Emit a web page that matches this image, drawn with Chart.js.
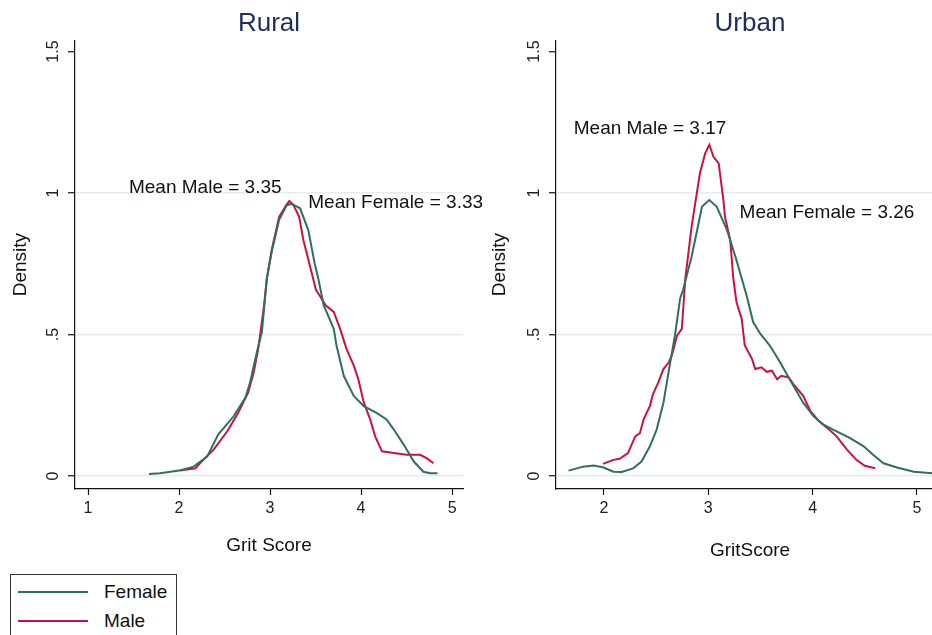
<!DOCTYPE html>
<html>
<head>
<meta charset="utf-8">
<script src="https://cdn.jsdelivr.net/npm/chart.js@4.4.1/dist/chart.umd.min.js"></script>
<style>
  html, body { margin: 0; padding: 0; background: #fff; overflow: hidden; }
  body { width: 932px; height: 635px; position: relative; font-family: "Liberation Sans", Arial, sans-serif; }
  .panel { position: absolute; top: 0; }
  #wrapRural { left: 0; width: 495px; height: 560px; }
  #wrapUrban { left: 470px; width: 490px; height: 565px; }
  .legend { position: absolute; left: 10px; top: 574px; width: 167px; height: 70px; border: 1px solid #333; box-sizing: border-box; }
  .legend .item { position: absolute; left: 7px; height: 22px; width: 150px; }
  .legend .swatch { position: absolute; left: 0; top: 10px; width: 70px; height: 2px; }
  .legend .lbl { position: absolute; left: 86px; top: 0; font-size: 19px; line-height: 22px; color: #111; }
</style>
</head>
<body>
<div class="panel" id="wrapRural"><canvas id="rural"></canvas></div>
<div class="panel" id="wrapUrban"><canvas id="urban"></canvas></div>
<div class="legend">
  <div class="item" style="top:6px"><div class="swatch" style="background:#2f6f61"></div><div class="lbl">Female</div></div>
  <div class="item" style="top:35px"><div class="swatch" style="background:#c8143c"></div><div class="lbl">Male</div></div>
</div>
<script>
// Kernel density estimates of grit score, by sex
const ruralFemaleX = [1.67, 1.79, 2.0, 2.16, 2.31, 2.43, 2.6, 2.73, 2.78, 2.855, 2.91, 2.965, 3.02, 3.1, 3.18, 3.22, 3.26, 3.33, 3.42, 3.49, 3.53, 3.59, 3.70, 3.73, 3.81, 3.92, 4.03, 4.17, 4.28, 4.36, 4.47, 4.58, 4.685, 4.76, 4.84];
const ruralFemaleY = [0.007, 0.010, 0.019, 0.033, 0.069, 0.146, 0.211, 0.277, 0.33, 0.437, 0.508, 0.698, 0.795, 0.905, 0.955, 0.961, 0.958, 0.946, 0.869, 0.752, 0.698, 0.603, 0.52, 0.461, 0.354, 0.283, 0.247, 0.223, 0.2, 0.164, 0.11, 0.051, 0.015, 0.0095, 0.0095];
const ruralMaleX = [2.01, 2.18, 2.23, 2.38, 2.53, 2.65, 2.76, 2.82, 2.87, 2.93, 2.965, 3.018, 3.10, 3.18, 3.212, 3.256, 3.32, 3.366, 3.44, 3.505, 3.55, 3.61, 3.70, 3.77, 3.84, 3.92, 3.97, 4.03, 4.10, 4.155, 4.23, 4.36, 4.50, 4.65, 4.72, 4.795];
const ruralMaleY = [0.019, 0.027, 0.045, 0.093, 0.158, 0.223, 0.295, 0.366, 0.449, 0.591, 0.698, 0.799, 0.916, 0.958, 0.972, 0.958, 0.916, 0.834, 0.74, 0.657, 0.635, 0.603, 0.58, 0.52, 0.449, 0.39, 0.342, 0.259, 0.2, 0.14, 0.087, 0.081, 0.075, 0.075, 0.063, 0.045];

const urbanFemaleX = [1.66, 1.80, 1.90, 1.99, 2.09, 2.17, 2.28, 2.36, 2.44, 2.505, 2.57, 2.63, 2.68, 2.73, 2.76, 2.84, 2.94, 3.01, 3.08, 3.18, 3.27, 3.37, 3.43, 3.50, 3.59, 3.69, 3.78, 3.91, 4.01, 4.10, 4.23, 4.36, 4.49, 4.58, 4.68, 4.81, 4.97, 5.15];
const urbanFemaleY = [0.019, 0.033, 0.037, 0.031, 0.015, 0.014, 0.027, 0.051, 0.105, 0.164, 0.259, 0.39, 0.496, 0.627, 0.66, 0.775, 0.952, 0.975, 0.952, 0.869, 0.763, 0.634, 0.544, 0.502, 0.461, 0.401, 0.342, 0.259, 0.211, 0.182, 0.158, 0.134, 0.105, 0.075, 0.045, 0.03, 0.015, 0.0095];
const urbanMaleX = [1.99, 2.09, 2.15, 2.23, 2.30, 2.345, 2.38, 2.44, 2.47, 2.52, 2.57, 2.62, 2.65, 2.70, 2.746, 2.78, 2.84, 2.92, 2.97, 3.01, 3.05, 3.10, 3.145, 3.16, 3.21, 3.24, 3.27, 3.32, 3.35, 3.42, 3.45, 3.51, 3.56, 3.61, 3.66, 3.70, 3.77, 3.83, 3.91, 3.98, 4.06, 4.14, 4.23, 4.33, 4.42, 4.50, 4.60];
const urbanMaleY = [0.043, 0.057, 0.061, 0.081, 0.14, 0.152, 0.2, 0.247, 0.289, 0.33, 0.378, 0.401, 0.425, 0.496, 0.52, 0.698, 0.881, 1.07, 1.14, 1.17, 1.128, 1.105, 0.975, 0.916, 0.834, 0.698, 0.615, 0.556, 0.461, 0.413, 0.378, 0.384, 0.368, 0.372, 0.342, 0.354, 0.348, 0.318, 0.283, 0.229, 0.194, 0.17, 0.14, 0.093, 0.057, 0.036, 0.027];

// Mean annotations: [text, x, y] in data units
const ruralNotes = [["Mean Male = 3.35", 1.45, 1.018], ["Mean Female = 3.33", 3.42, 0.965]];
const urbanNotes = [["Mean Male = 3.17", 1.71, 1.226], ["Mean Female = 3.26", 3.30, 0.93]];

const yTicks = [0, 0.5, 1, 1.5];
const yTickLabels = ["0", ".5", "1", "1.5"];
const ruralXTicks = [1, 2, 3, 4, 5];
const urbanXTicks = [2, 3, 4, 5];

const FEMALE = "#2f6f61";
const MALE = "#c8143c";
const FONT = "'Liberation Sans', Arial, sans-serif";

function pts(xs, ys) { return xs.map((x, i) => ({ x: x, y: ys[i] })); }

const notesPlugin = {
  id: "notes",
  afterDatasetsDraw(chart, args, opts) {
    const { ctx, scales } = chart;
    ctx.save();
    ctx.font = "19px " + FONT;
    ctx.fillStyle = "#111";
    ctx.textAlign = "left";
    ctx.textBaseline = "middle";
    (opts.items || []).forEach(n => {
      ctx.fillText(n[0], scales.x.getPixelForValue(n[1]), scales.y.getPixelForValue(n[2]));
    });
    ctx.restore();
  }
};

function makeChart(id, cfg) {
  return new Chart(document.getElementById(id), {
    type: "line",
    data: {
      datasets: [
        { label: "Female", data: pts(cfg.fx, cfg.fy), borderColor: FEMALE, borderWidth: 2, pointRadius: 0, tension: 0, fill: false },
        { label: "Male", data: pts(cfg.mx, cfg.my), borderColor: MALE, borderWidth: 2, pointRadius: 0, tension: 0, fill: false }
      ]
    },
    plugins: [notesPlugin],
    options: {
      responsive: true,
      maintainAspectRatio: false,
      animation: false,
      events: [],
      layout: { padding: { left: 0, right: cfg.padRight, top: 0, bottom: 0 } },
      plugins: {
        legend: { display: false },
        tooltip: { enabled: false },
        title: {
          display: true, text: cfg.title, fullSize: false,
          color: "#1e2d5c", font: { family: FONT, size: 26, weight: "normal" },
          padding: { top: 8, bottom: 1 }
        },
        notes: { items: cfg.notes }
      },
      scales: {
        x: {
          type: "linear", min: cfg.xmin, max: cfg.xmax,
          afterBuildTicks: s => { s.ticks = cfg.xticks.map(v => ({ value: v })); },
          afterFit: s => { s.height = cfg.xAxisH; },
          border: { display: true, color: "#111", width: 1.2 },
          grid: { display: true, drawOnChartArea: false, drawTicks: true, tickLength: 6, tickColor: "#111", tickWidth: 1.2 },
          ticks: { color: "#222", font: { family: FONT, size: 16 }, padding: 4, maxRotation: 0, callback: v => String(v) },
          title: { display: true, text: cfg.xtitle, color: "#111", font: { family: FONT, size: 19 }, padding: { top: 0, bottom: 2.6 } }
        },
        y: {
          type: "linear", min: -0.046, max: 1.54,
          afterBuildTicks: s => { s.ticks = yTicks.map(v => ({ value: v })); },
          afterFit: s => { s.width = cfg.yAxisW; },
          border: { display: true, color: "#111", width: 1.2 },
          grid: {
            display: true, drawOnChartArea: true, drawTicks: true, tickLength: 7,
            color: c => (c.tick && c.tick.value === 1.5) ? "rgba(0,0,0,0)" : "#e3edf0",
            lineWidth: 1.5, tickColor: "#111", tickWidth: 1.2
          },
          ticks: {
            color: "#222", font: { family: FONT, size: 16 }, padding: 3.5,
            minRotation: 90, maxRotation: 90, crossAlign: "center",
            callback: v => yTickLabels[yTicks.indexOf(v)]
          },
          title: { display: true, text: "Density", color: "#111", font: { family: FONT, size: 19 }, padding: { top: cfg.yTitlePad, bottom: 0 } }
        }
      }
    }
  });
}

makeChart("rural", {
  title: "Rural", xtitle: "Grit Score",
  fx: ruralFemaleX, fy: ruralFemaleY, mx: ruralMaleX, my: ruralMaleY,
  notes: ruralNotes, xticks: ruralXTicks, xmin: 0.857, xmax: 5.12,
  padRight: 32, yAxisW: 75, xAxisH: 71, yTitlePad: 9.6
});
makeChart("urban", {
  title: "Urban", xtitle: "GritScore",
  fx: urbanFemaleX, fy: urbanFemaleY, mx: urbanMaleX, my: urbanMaleY,
  notes: urbanNotes, xticks: urbanXTicks, xmin: 1.54, xmax: 5.26,
  padRight: 16, yAxisW: 86, xAxisH: 76, yTitlePad: 18.6
});
</script>
</body>
</html>
